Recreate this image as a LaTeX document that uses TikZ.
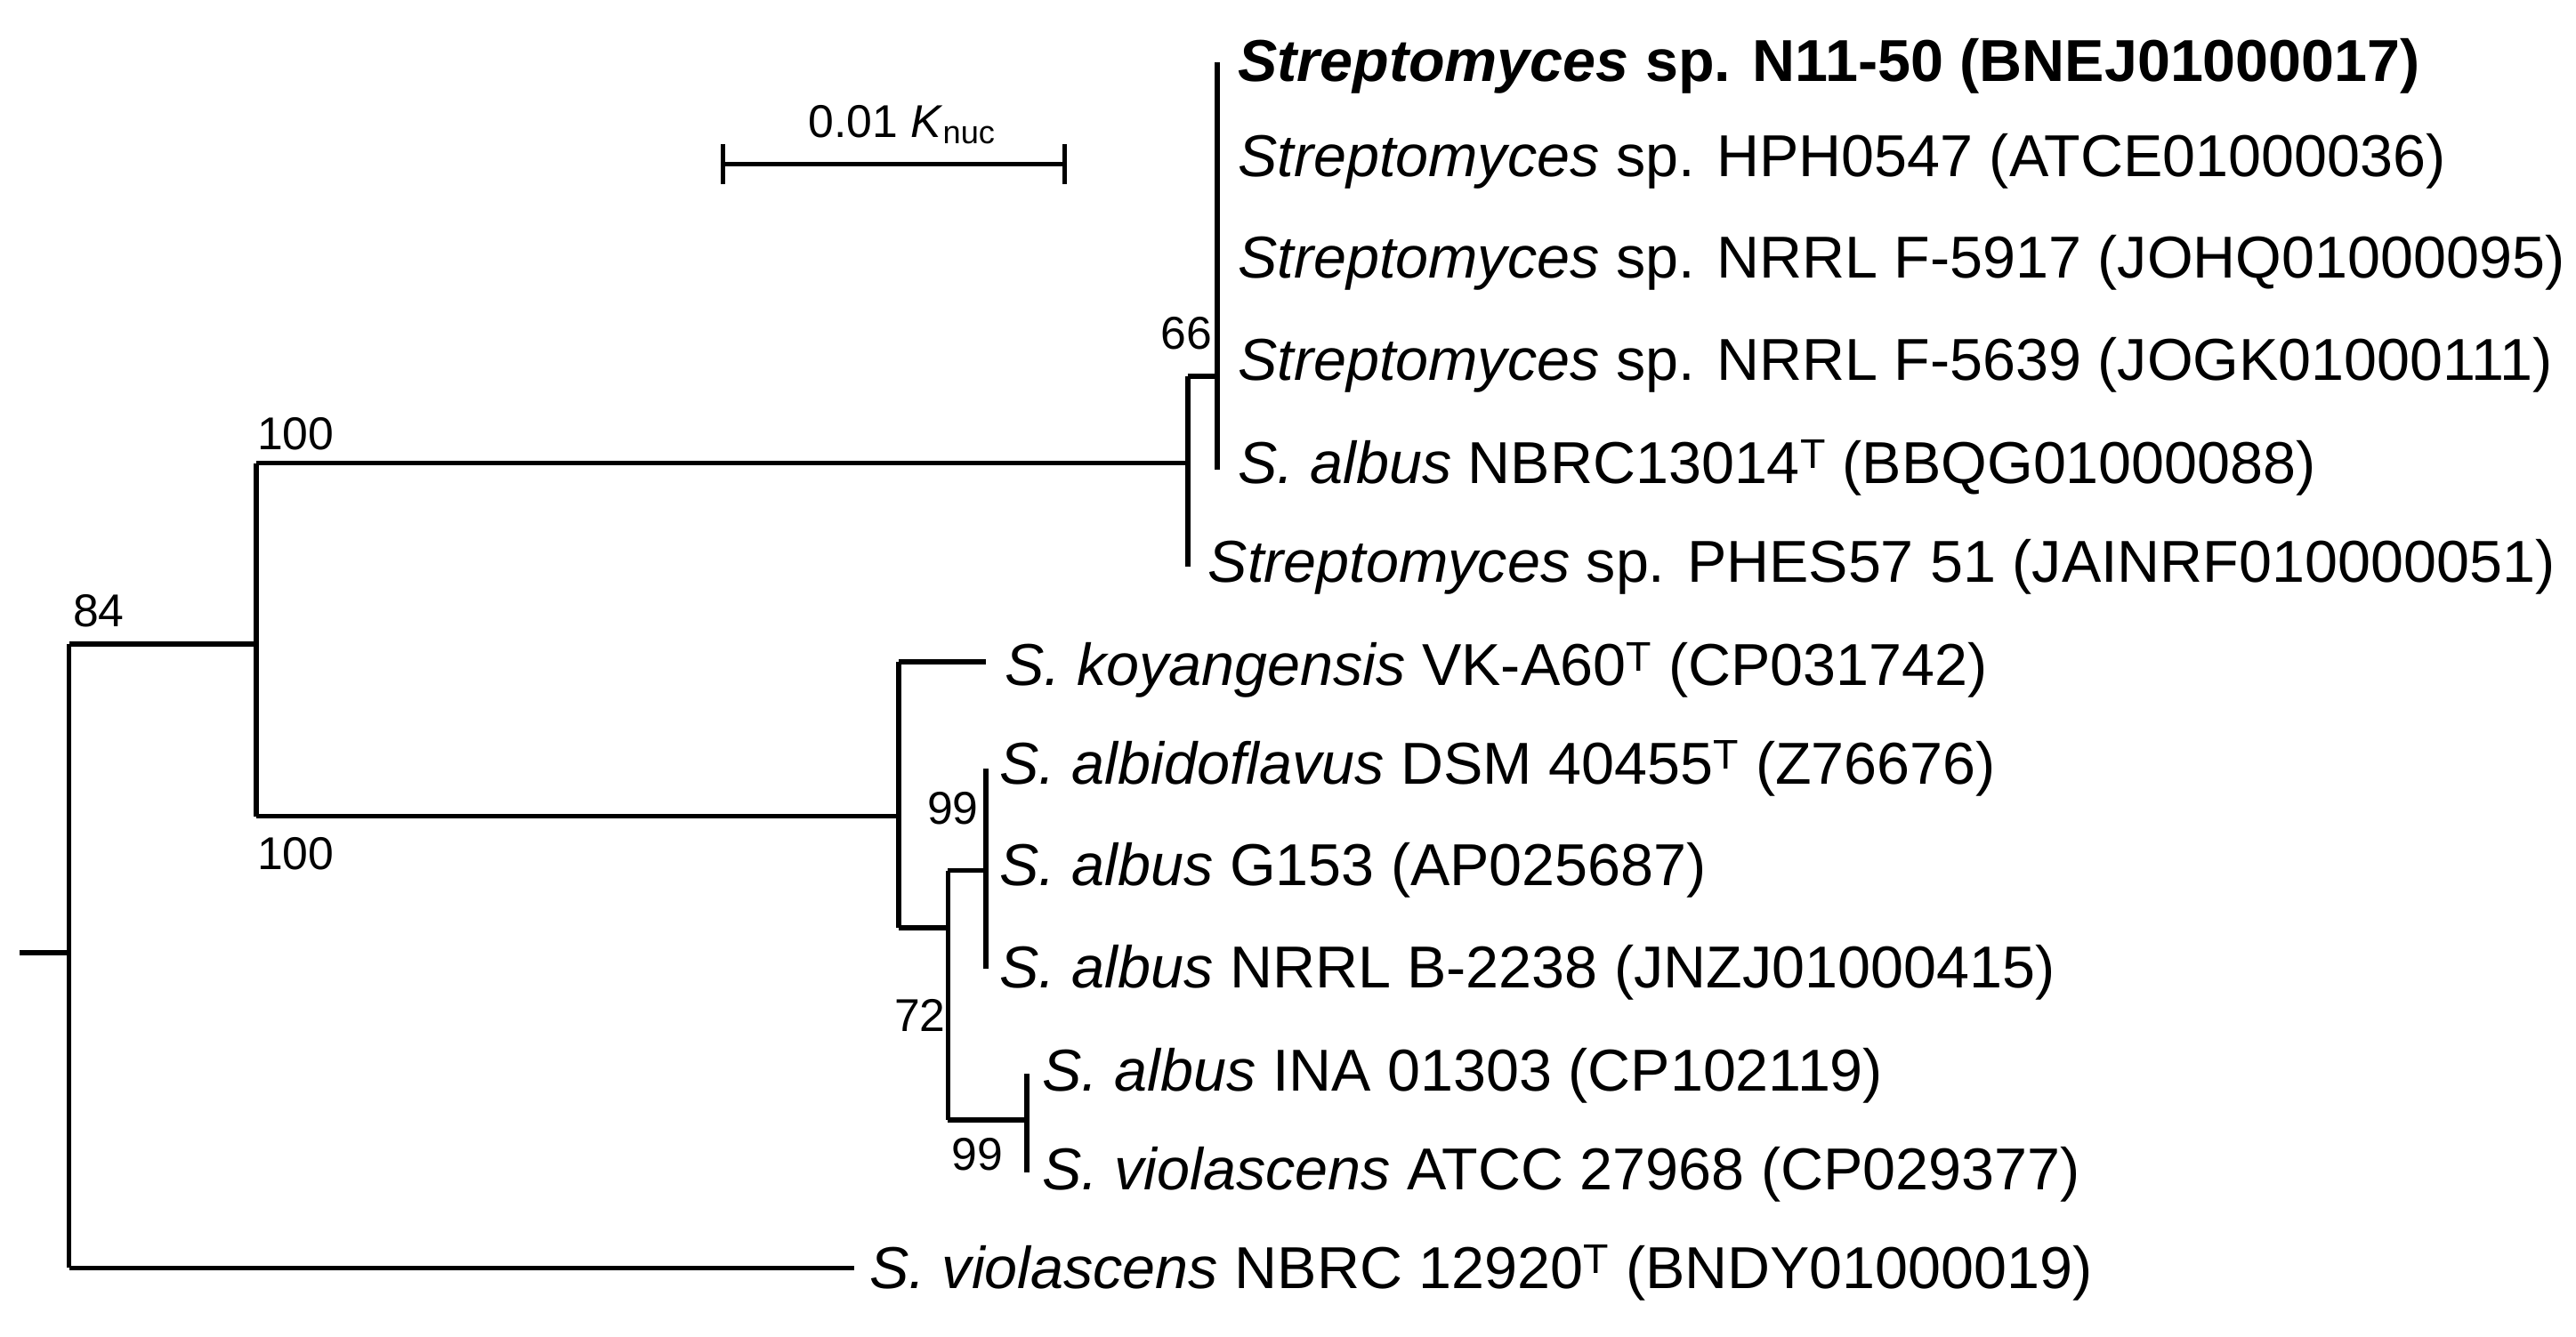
\documentclass[tikz,border=0pt]{standalone}
\usepackage{fontspec}
\setmainfont{Liberation Sans}
\begin{document}
\begin{tikzpicture}[x=1pt,y=-1pt,line width=3pt,
  leaf/.style={anchor=west,inner sep=0pt,font=\fontsize{36}{38}\selectfont},
  bs/.style={inner sep=0pt,font=\fontsize{28}{30}\selectfont}]
\useasboundingbox (0,0) rectangle (1568,814);
% scale bar
\draw (440,100) -- (648,100);
\draw (440,88) -- (440,112);
\draw (648,88) -- (648,112);
\node[bs] (sb) at (549,76) {0.01 \textit{K}\textsubscript{nuc}};
% root
\draw (12,580) -- (42,580);
\draw (42,392) -- (42,772);
\node[bs] at (60,372) {84};
\draw (42,392) -- (156,392);
\draw (156,282) -- (156,497);
\node[bs] at (180,264) {100};
\node[bs] at (180,520) {100};
% upper clade
\draw (156,282) -- (723,282);
\draw (723,229) -- (723,345);
\draw (723,229) -- (741,229);
\draw (741,38) -- (741,286);
\node[bs] at (722,203) {66};
\node[leaf] at (752,40) {\textbf{\textit{Streptomyces} sp. N11-50 (BNEJ01000017)}};
\node[leaf] at (752,98) {\textit{Streptomyces} sp. HPH0547 (ATCE01000036)};
\node[leaf] at (752,160) {\textit{Streptomyces} sp. NRRL F-5917 (JOHQ01000095)};
\node[leaf] at (752,222) {\textit{Streptomyces} sp. NRRL F-5639 (JOGK01000111)};
\node[leaf] at (752,285) {\textit{S. albus} NBRC13014\textsuperscript{T} (BBQG01000088)};
\node[leaf] at (734,345) {\textit{Streptomyces} sp. PHES57 51 (JAINRF010000051)};
% lower clade
\draw (156,497) -- (547,497);
\draw (547,403) -- (547,565);
\draw (547,403) -- (600,403);
\node[leaf] at (610,408) {\textit{S. koyangensis} VK-A60\textsuperscript{T} (CP031742)};
\draw (547,565) -- (577,565);
\draw (577,530) -- (577,682);
\node[bs] at (560,618) {72};
\draw (577,530) -- (600,530);
\draw (600,468) -- (600,590);
\node[bs] at (580,492) {99};
\node[leaf] at (607,468) {\textit{S. albidoflavus} DSM 40455\textsuperscript{T} (Z76676)};
\node[leaf] at (607,530) {\textit{S. albus} G153 (AP025687)};
\node[leaf] at (607,592) {\textit{S. albus} NRRL B-2238 (JNZJ01000415)};
\draw (577,682) -- (625,682);
\draw (625,654) -- (625,714);
\node[bs] at (595,703) {99};
\node[leaf] at (633,655) {\textit{S. albus} INA 01303 (CP102119)};
\node[leaf] at (633,715) {\textit{S. violascens} ATCC 27968 (CP029377)};
% outgroup
\draw (42,772) -- (520,772);
\node[leaf] at (528,775) {\textit{S. violascens} NBRC 12920\textsuperscript{T} (BNDY01000019)};
\end{tikzpicture}
\end{document}
